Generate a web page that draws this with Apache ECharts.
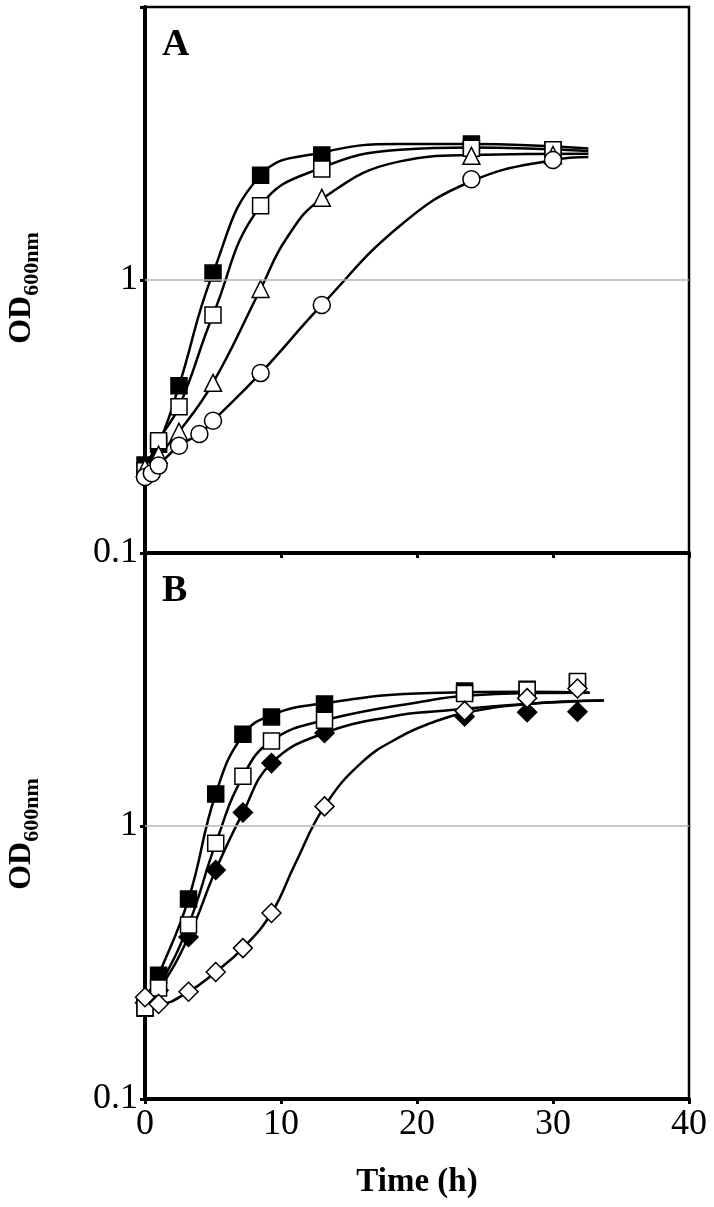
<!DOCTYPE html>
<html><head><meta charset="utf-8">
<script src="https://cdn.jsdelivr.net/npm/echarts@6/dist/echarts.min.js"></script>
<style>html,body{margin:0;padding:0;background:#fff;}#c{width:714px;height:1207px;}</style>
</head><body><div id="c"></div>
<script>
// ---------- tick labels / texts ----------
const xTickValues = [0, 10, 20, 30, 40];
const xTickLabels = ['0', '10', '20', '30', '40'];
const yTickValues = [0.1, 1, 10];
const yTickLabels = ['0.1', '1', ''];
const panelLabels = ['A', 'B'];
const xTitle = 'Time (h)';
const yTitleMain = 'OD';
const yTitleSub = '600nm';

// ---------- Panel A: measured points ----------
const timeA = [0, 0.5, 1, 2.5, 4, 5, 8.5, 13, 24, 30];
const A_filledSquare = [0.21, null, 0.25, 0.41, null, 1.06, 2.42, 2.87, 3.15, 3.0];
const A_openSquare   = [0.20, null, 0.258, 0.343, null, 0.744, 1.87, 2.55, 3.04, 3.0];
const A_triangle     = [0.205, null, 0.229, 0.278, null, 0.42, 0.927, 2.0, 2.85, 2.87];
const A_circle       = [0.19, 0.196, 0.209, 0.247, 0.273, 0.305, 0.456, 0.81, 2.34, 2.75];

// ---------- Panel A: fitted curves [time, OD] ----------
const A_fit_filledSquare = [[0,0.21],[1,0.25],[2.5,0.41],[5,1.06],[8.5,2.42],[13,2.93],[18.75,3.15],[24,3.15],[32.6,3.03]];
const A_fit_openSquare   = [[0,0.20],[1,0.258],[2.5,0.343],[5,0.744],[8.5,1.87],[13,2.58],[18.75,3.0],[24,3.06],[32.6,2.97]];
const A_fit_triangle     = [[0,0.205],[1,0.229],[2.5,0.278],[5,0.42],[8.5,0.927],[10.4,1.42],[13,1.98],[18.75,2.72],[24,2.87],[32.6,2.9]];
const A_fit_circle       = [[0,0.19],[0.5,0.196],[1,0.209],[2.5,0.247],[4,0.273],[5,0.305],[8.5,0.456],[13,0.81],[18.75,1.58],[24,2.3],[30,2.75],[32.6,2.82]];

// ---------- Panel B: measured points ----------
const timeB = [0, 1, 3.2, 5.2, 7.2, 9.3, 13.2, 23.5, 28.1, 31.8];
const B_filledSquare  = [0.215, 0.284, 0.54, 1.31, 2.17, 2.51, 2.8, 3.12, 3.17, 3.35];
const B_filledDiamond = [0.225, 0.25, 0.392, 0.69, 1.12, 1.70, 2.19, 2.52, 2.61, 2.62];
const B_openSquare    = [0.216, 0.255, 0.434, 0.864, 1.52, 2.05, 2.44, 3.06, 3.15, 3.38];
const B_openDiamond   = [0.236, 0.223, 0.247, 0.292, 0.357, 0.48, 1.18, 2.64, 2.94, 3.19];

// ---------- Panel B: fitted curves [time, OD] ----------
const B_fit_filledSquare  = [[0,0.22],[1,0.284],[3.2,0.54],[5.2,1.31],[7.2,2.15],[9.3,2.55],[13.2,2.82],[21,3.07],[28.1,3.1],[32.7,3.08]];
const B_fit_filledDiamond = [[0,0.225],[1,0.25],[3.2,0.392],[5.2,0.69],[7.2,1.12],[9.3,1.70],[13.2,2.19],[18.75,2.55],[21,2.62],[28.1,2.8],[33.75,2.88]];
const B_fit_openSquare    = [[0,0.216],[1,0.255],[3.2,0.434],[5.2,0.864],[7.2,1.52],[9.3,2.05],[13.2,2.44],[21,2.89],[23.5,3.0],[28.1,3.07],[32.7,3.08]];
const B_fit_openDiamond   = [[0,0.236],[1,0.223],[3.2,0.247],[5.2,0.292],[7.2,0.357],[9.3,0.48],[11,0.72],[13.2,1.18],[16,1.72],[18.75,2.12],[21,2.38],[23.5,2.6],[28.1,2.8],[33.75,2.88]];

// ---------- helpers ----------
const SERIF = '"Liberation Serif", "Times New Roman", serif';
function zip(times, vals) {
  const out = [];
  times.forEach((t, i) => { if (vals[i] != null) out.push([t, vals[i]]); });
  return out;
}
function curve(data, gi) {
  return { type: 'line', xAxisIndex: gi, yAxisIndex: gi, data: data, smooth: 0.45,
    symbol: 'none', showSymbol: false, clip: false, silent: true, z: 2,
    lineStyle: { color: '#000', width: 2.5 } };
}
function marks(data, gi, symbol, size, filled) {
  return { type: 'scatter', xAxisIndex: gi, yAxisIndex: gi, data: data, symbol: symbol,
    symbolSize: size, clip: false, silent: true, z: 4,
    itemStyle: { color: filled ? '#000' : '#fff', borderColor: '#000', borderWidth: 1.5, opacity: 1 } };
}
function refLine(gi) {
  return { type: 'line', xAxisIndex: gi, yAxisIndex: gi, data: [], z: 1, silent: true,
    markLine: { silent: true, symbol: 'none', label: { show: false },
      lineStyle: { color: '#b5b5b5', width: 1.5, type: 'solid' }, data: [{ yAxis: 1 }] } };
}
function yLabel(v) {
  for (let i = 0; i < yTickValues.length; i++) {
    if (Math.abs(Math.log10(v) - Math.log10(yTickValues[i])) < 1e-6) return yTickLabels[i];
  }
  return '';
}
function xLabel(v) {
  const i = xTickValues.indexOf(v);
  return i >= 0 ? xTickLabels[i] : '';
}

const grids = [
  { left: 145, top: 7, width: 544, height: 546 },
  { left: 145, top: 553, width: 544, height: 546 }
];

function makeX(gi, showLabels) {
  const ax = { gridIndex: gi, type: 'value', min: 0, max: 40, interval: 10,
    axisLine: { show: true, onZero: false, lineStyle: { color: '#000', width: 4 } },
    axisTick: { show: true, inside: false, length: 5, lineStyle: { color: '#000', width: 3 } },
    axisLabel: { show: showLabels, formatter: xLabel, color: '#000', fontFamily: SERIF, fontSize: 36, margin: 8 },
    splitLine: { show: false } };
  if (showLabels) {
    ax.name = xTitle; ax.nameLocation = 'middle'; ax.nameGap = 67;
    ax.nameTextStyle = { color: '#000', fontFamily: SERIF, fontSize: 33, fontWeight: 'bold' };
  }
  return ax;
}
function makeY(gi) {
  return { gridIndex: gi, type: 'log', logBase: 10, min: 0.1, max: 10,
    axisLine: { show: true, onZero: false, lineStyle: { color: '#000', width: 4 } },
    axisTick: { show: true, inside: false, length: 5, lineStyle: { color: '#000', width: 3 } },
    axisLabel: { show: true, formatter: yLabel, color: '#000', fontFamily: SERIF, fontSize: 36, margin: 7 },
    splitLine: { show: false }, minorTick: { show: false } };
}

// y title (rotated) built with measured text widths
const cv = document.createElement('canvas').getContext('2d');
const fMain = 'bold 32px "Liberation Serif"';
const fSub = 'bold 22px "Liberation Serif"';
cv.font = fMain; const wMain = cv.measureText(yTitleMain).width;
cv.font = fSub; const wSub = cv.measureText(yTitleSub).width;
function yTitle(cx, cy) {
  const total = wMain + wSub;
  return { type: 'group', x: cx, y: cy + total / 2, rotation: Math.PI / 2, silent: true,
    children: [
      { type: 'text', x: 0, y: 0, style: { text: yTitleMain, font: fMain, fill: '#000', textAlign: 'left', textVerticalAlign: 'middle' } },
      { type: 'text', x: wMain, y: 10, style: { text: yTitleSub, font: fSub, fill: '#000', textAlign: 'left', textVerticalAlign: 'middle' } }
    ] };
}

const option = {
  backgroundColor: '#fff',
  animation: false,
  grid: grids.map(g => Object.assign({ show: true, borderColor: '#000', borderWidth: 2.5, backgroundColor: 'transparent' }, g)),
  xAxis: [makeX(0, false), makeX(1, true)],
  yAxis: [makeY(0), makeY(1)],
  graphic: [
    { type: 'text', left: 162, top: 26, silent: true, style: { text: panelLabels[0], font: 'bold 38px "Liberation Serif"', fill: '#000' } },
    { type: 'text', left: 162, top: 572, silent: true, style: { text: panelLabels[1], font: 'bold 38px "Liberation Serif"', fill: '#000' } },
    yTitle(22, 288),
    yTitle(22, 834)
  ],
  series: [
    refLine(0), refLine(1),
    curve(A_fit_filledSquare, 0), curve(A_fit_openSquare, 0), curve(A_fit_triangle, 0), curve(A_fit_circle, 0),
    curve(B_fit_filledSquare, 1), curve(B_fit_filledDiamond, 1), curve(B_fit_openSquare, 1), curve(B_fit_openDiamond, 1),
    marks(zip(timeA, A_filledSquare), 0, 'rect', 16, true),
    marks(zip(timeA, A_openSquare), 0, 'rect', 16, false),
    marks(zip(timeA, A_triangle), 0, 'triangle', 17, false),
    marks(zip(timeA, A_circle), 0, 'circle', 17, false),
    marks(zip(timeB, B_filledSquare), 1, 'rect', 16, true),
    marks(zip(timeB, B_filledDiamond), 1, 'diamond', 19, true),
    marks(zip(timeB, B_openSquare), 1, 'rect', 16, false),
    marks(zip(timeB, B_openDiamond), 1, 'diamond', 19, false)
  ]
};
const chart = echarts.init(document.getElementById('c'), null, { renderer: 'canvas' });
chart.setOption(option);
</script></body></html>
